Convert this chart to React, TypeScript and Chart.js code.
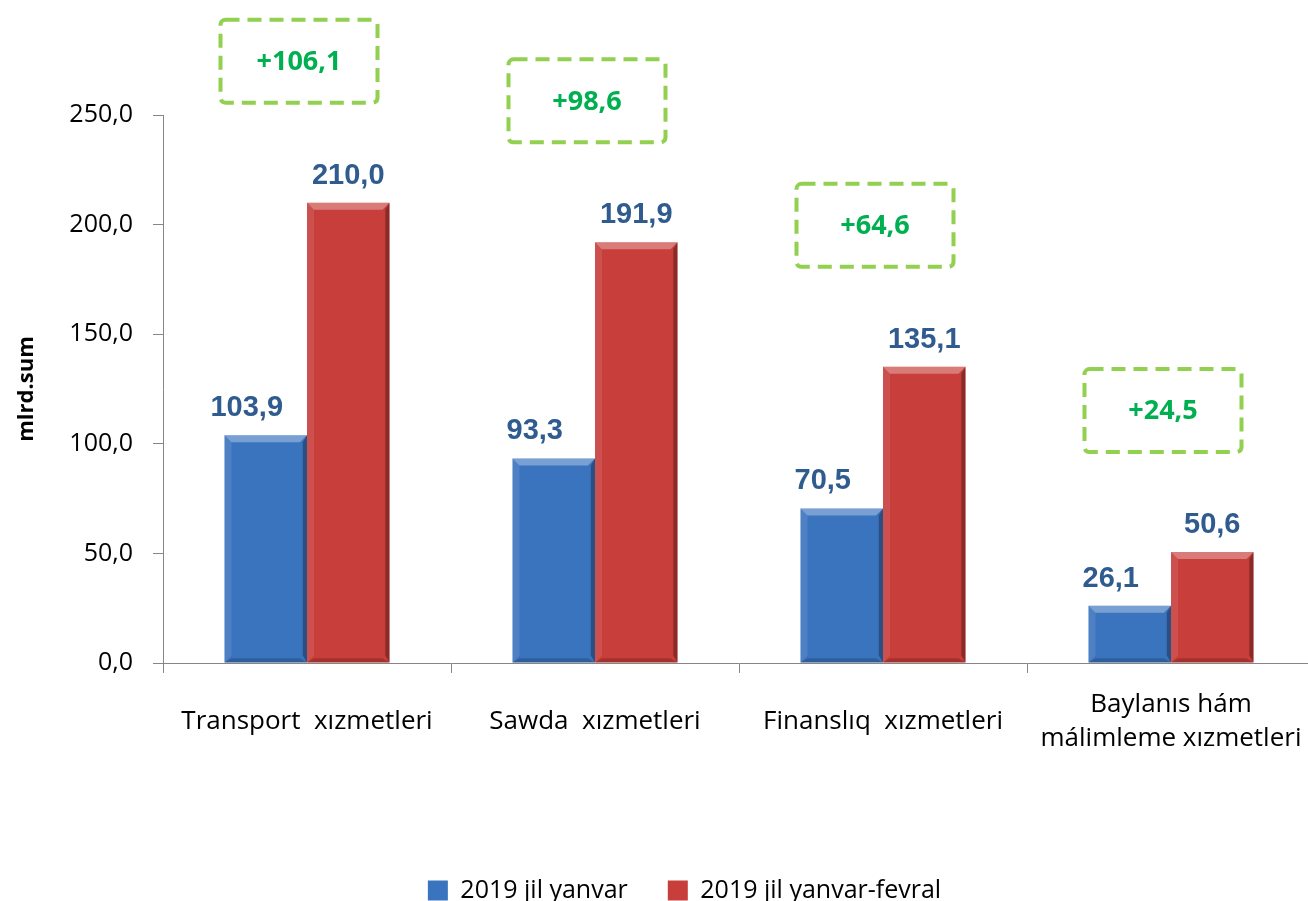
import React, { useEffect, useRef } from "react";
import { Chart, registerables } from "chart.js";

Chart.register(...registerables);

const categories: string[][] = [
  ["Transport  xızmetleri"],
  ["Sawda  xızmetleri"],
  ["Finanslıq  xızmetleri"],
  ["Baylanıs hám", "málimleme xızmetleri"],
];
const seriesNames = ["2019 jil yanvar", "2019 jil yanvar-fevral"];
const janValues = [103.9, 93.3, 70.5, 26.1];
const janFebValues = [210.0, 191.9, 135.1, 50.6];
const yMin = 0;
const yMax = 250;
const yStep = 50;
const yTitle = "mlrd.sum";

const fmt = (v: number) => v.toFixed(1).replace(".", ",");

const BLUE = "#3A73BE";
const RED = "#C73E3A";

const bevelPlugin = {
  id: "bevel",
  afterDatasetsDraw(chart: any) {
    const ctx = chart.ctx;
    chart.data.datasets.forEach((_ds: any, di: number) => {
      const meta = chart.getDatasetMeta(di);
      meta.data.forEach((el: any) => {
        const { x, y, base, width } = el.getProps(["x", "y", "base", "width"], true);
        const l = x - width / 2;
        const r = x + width / 2;
        const t = y;
        const b = base;
        const bv = Math.min(7, (b - t) / 3);
        const poly = (pts: number[], color: string) => {
          ctx.save();
          ctx.fillStyle = color;
          ctx.beginPath();
          ctx.moveTo(pts[0], pts[1]);
          for (let i = 2; i < pts.length; i += 2) ctx.lineTo(pts[i], pts[i + 1]);
          ctx.closePath();
          ctx.fill();
          ctx.restore();
        };
        poly([l, t, r, t, r - bv, t + bv, l + bv, t + bv], "rgba(255,255,255,0.32)");
        poly([l, t, l + bv, t + bv, l + bv, b - bv, l, b], "rgba(255,255,255,0.10)");
        poly([r, t, r, b, r - bv * 0.6, b - bv, r - bv * 0.6, t + bv], "rgba(0,0,0,0.30)");
        poly([l, b, r, b, r - bv, b - bv * 0.6, l + bv, b - bv * 0.6], "rgba(0,0,0,0.18)");
      });
    });
  },
};

const valueLabelPlugin = {
  id: "valueLabels",
  afterDatasetsDraw(chart: any) {
    const ctx = chart.ctx;
    ctx.save();
    ctx.font = "bold 29px 'Liberation Sans', Arial, sans-serif";
    ctx.fillStyle = "#2F5B8F";
    ctx.textAlign = "center";
    ctx.textBaseline = "alphabetic";
    chart.data.datasets.forEach((ds: any, di: number) => {
      const meta = chart.getDatasetMeta(di);
      meta.data.forEach((el: any, i: number) => {
        const dx = di === 0 ? -19 : 0;
        ctx.fillText(fmt(ds.data[i]), el.x + dx, el.y - 19);
      });
    });
    ctx.restore();
  },
};

const diffBoxPlugin = {
  id: "diffBoxes",
  afterDraw(chart: any) {
    const ctx = chart.ctx;
    const xs = chart.scales.x;
    const ys = chart.scales.y;
    const w = 157;
    const h = 83;
    categories.forEach((_c, i) => {
      const cx = xs.getPixelForValue(i) - 8;
      const bottom = ys.getPixelForValue(janFebValues[i]) - 100;
      const left = cx - w / 2;
      const top = bottom - h;
      ctx.save();
      ctx.strokeStyle = "#92D050";
      ctx.lineWidth = 4;
      ctx.setLineDash([14, 8]);
      ctx.beginPath();
      ctx.roundRect(left, top, w, h, 5);
      ctx.stroke();
      ctx.setLineDash([]);
      ctx.fillStyle = "#00B050";
      ctx.font = "bold 27px 'Open Sans', sans-serif";
      ctx.textAlign = "center";
      ctx.textBaseline = "middle";
      ctx.fillText("+" + fmt(janFebValues[i] - janValues[i]), cx, top + h / 2 + 1);
      ctx.restore();
    });
  },
};

export default function App() {
  const canvasRef = useRef<HTMLCanvasElement | null>(null);

  useEffect(() => {
    if (!canvasRef.current) return;
    const chart = new Chart(canvasRef.current, {
      type: "bar",
      data: {
        labels: categories,
        datasets: [
          {
            label: seriesNames[0],
            data: janValues,
            backgroundColor: BLUE,
            borderWidth: 0,
            categoryPercentage: 0.573,
            barPercentage: 1.0,
          },
          {
            label: seriesNames[1],
            data: janFebValues,
            backgroundColor: RED,
            borderWidth: 0,
            categoryPercentage: 0.573,
            barPercentage: 1.0,
          },
        ],
      },
      options: {
        responsive: false,
        animation: false,
        devicePixelRatio: 1,
        layout: { padding: { top: 115, left: 54, right: 1, bottom: -12 } },
        plugins: {
          legend: {
            position: "bottom",
            labels: {
              font: { family: "'Open Sans', sans-serif", size: 25 },
              color: "#000",
              boxWidth: 20,
              boxHeight: 20,
              padding: 40,
            },
          },
          tooltip: { enabled: false },
        },
        scales: {
          x: {
            grid: {
              display: true,
              drawOnChartArea: false,
              drawTicks: true,
              tickLength: 10,
              color: "#868686",
              offset: true,
            },
            border: { color: "#868686", width: 1 },
            ticks: {
              font: { family: "'Open Sans', sans-serif", size: 26, lineHeight: 1.3 },
              color: "#000",
              padding: 32,
              crossAlign: "center",
              maxRotation: 0,
              autoSkip: false,
            },
            afterFit: (s: any) => {
              s.height = 175;
              s.paddingRight = 0;
              s.paddingLeft = 0;
            },
          },
          y: {
            min: yMin,
            max: yMax,
            ticks: {
              stepSize: yStep,
              callback: (v: any) => fmt(Number(v)),
              font: { family: "'Open Sans', sans-serif", size: 25 },
              color: "#000",
              padding: 20,
            },
            grid: {
              drawOnChartArea: false,
              drawTicks: true,
              tickLength: 10,
              color: "#868686",
            },
            border: { color: "#868686", width: 1 },
            title: {
              display: true,
              text: yTitle,
              font: { family: "'Open Sans', sans-serif", size: 22, weight: "bold" },
              color: "#000",
              padding: { top: -40, bottom: 0 },
            },
            afterFit: (s: any) => {
              s.width = 109;
            },
          },
        },
      },
      plugins: [bevelPlugin, valueLabelPlugin, diffBoxPlugin],
    } as any);
    return () => chart.destroy();
  }, []);

  return (
    <div
      style={{
        position: "absolute",
        left: 0,
        top: 0,
        width: 1308,
        height: 901,
        overflow: "hidden",
        background: "#fff",
      }}
    >
      <canvas ref={canvasRef} width={1316} height={901} style={{ display: "block" }} />
    </div>
  );
}
